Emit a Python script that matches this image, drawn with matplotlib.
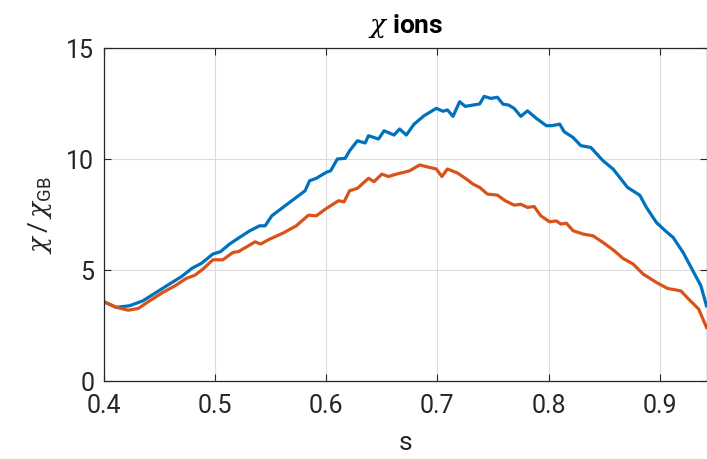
import matplotlib
matplotlib.use("Agg")
import matplotlib.pyplot as plt

# radial coordinate s
s_blue = [0.400, 0.411, 0.423, 0.435, 0.447, 0.459, 0.470, 0.479, 0.488, 0.498,
          0.505, 0.513, 0.522, 0.531, 0.540, 0.545, 0.551, 0.561, 0.573, 0.581,
          0.585, 0.591, 0.600, 0.604, 0.610, 0.617, 0.621, 0.628, 0.635, 0.638,
          0.647, 0.652, 0.661, 0.666, 0.672, 0.679, 0.688, 0.699, 0.705, 0.709,
          0.714, 0.720, 0.725, 0.732, 0.738, 0.742, 0.748, 0.754, 0.759, 0.764,
          0.769, 0.775, 0.781, 0.789, 0.798, 0.803, 0.810, 0.814, 0.822, 0.829,
          0.838, 0.849, 0.858, 0.864, 0.871, 0.882, 0.888, 0.897, 0.906, 0.912,
          0.921, 0.929, 0.937, 0.942]
chi_blue = [3.56, 3.31, 3.38, 3.60, 3.98, 4.36, 4.70, 5.06, 5.30, 5.71,
            5.82, 6.16, 6.46, 6.75, 6.98, 6.98, 7.43, 7.81, 8.26, 8.56,
            9.01, 9.12, 9.39, 9.46, 9.99, 10.02, 10.36, 10.81, 10.71, 11.04,
            10.89, 11.26, 11.07, 11.34, 11.07, 11.56, 11.94, 12.27, 12.14, 12.20,
            11.91, 12.57, 12.36, 12.42, 12.47, 12.81, 12.72, 12.77, 12.46, 12.42,
            12.27, 11.91, 12.16, 11.82, 11.49, 11.49, 11.56, 11.22, 10.96, 10.59,
            10.51, 9.91, 9.54, 9.16, 8.71, 8.36, 7.81, 7.13, 6.71, 6.46,
            5.78, 5.03, 4.28, 3.38]

s_orange = [0.400, 0.411, 0.422, 0.431, 0.441, 0.453, 0.464, 0.474, 0.482, 0.489,
            0.498, 0.507, 0.516, 0.521, 0.530, 0.536, 0.541, 0.549, 0.561, 0.573,
            0.584, 0.591, 0.600, 0.611, 0.616, 0.621, 0.628, 0.638, 0.643, 0.650,
            0.656, 0.663, 0.670, 0.675, 0.684, 0.693, 0.699, 0.704, 0.709, 0.718,
            0.726, 0.732, 0.738, 0.745, 0.754, 0.761, 0.769, 0.775, 0.781, 0.787,
            0.793, 0.801, 0.807, 0.811, 0.816, 0.822, 0.831, 0.840, 0.849, 0.859,
            0.867, 0.876, 0.885, 0.897, 0.907, 0.919, 0.926, 0.935, 0.942]
chi_orange = [3.56, 3.31, 3.18, 3.26, 3.60, 3.98, 4.28, 4.61, 4.76, 5.03,
              5.45, 5.45, 5.78, 5.82, 6.08, 6.26, 6.16, 6.38, 6.65, 6.98,
              7.46, 7.43, 7.76, 8.11, 8.06, 8.56, 8.67, 9.12, 8.97, 9.31,
              9.20, 9.31, 9.39, 9.46, 9.72, 9.61, 9.54, 9.20, 9.54, 9.36,
              9.09, 8.86, 8.71, 8.41, 8.36, 8.11, 7.91, 7.95, 7.81, 7.85,
              7.43, 7.16, 7.20, 7.06, 7.10, 6.76, 6.61, 6.53, 6.23, 5.86,
              5.51, 5.26, 4.81, 4.43, 4.16, 4.05, 3.68, 3.23, 2.41]

xticks = [0.4, 0.5, 0.6, 0.7, 0.8, 0.9]
yticks = [0, 5, 10, 15]

plt.rcParams['font.family'] = ['Roboto', 'DejaVu Sans']
plt.rcParams['mathtext.fontset'] = 'custom'
plt.rcParams['mathtext.rm'] = 'Roboto'
plt.rcParams['mathtext.it'] = 'DejaVu Serif:italic'
plt.rcParams['mathtext.sf'] = 'Roboto'

fig = plt.figure(figsize=(7.07, 4.6), dpi=100)
ax = fig.add_axes([0.147, 0.17, 0.853, 0.724])

ax.plot(s_blue, chi_blue, color='#0072BD', lw=2.3)
ax.plot(s_orange, chi_orange, color='#D95319', lw=2.3)

ax.set_xlim(0.4, 0.9425)
ax.set_ylim(0, 15)
ax.set_xticks(xticks)
ax.set_yticks(yticks)
ax.set_xticklabels([f"{t:.1f}" for t in xticks])
ax.grid(True, color='#dcdcdc', lw=0.8)
ax.set_axisbelow(True)
ax.tick_params(direction='in', length=5, labelsize=18, colors='#262626',
               width=0.8, top=True, right=True)
ax.tick_params(axis='x', pad=9)
ax.tick_params(axis='y', pad=7)
for sp in ax.spines.values():
    sp.set_color('#262626')
    sp.set_linewidth(0.9)

ax.set_xlabel('s', fontsize=19, color='#262626', labelpad=9)
ax.set_ylabel(r'$\chi\,/\,\chi_{\mathrm{GB}}$', fontsize=19, color='#262626', labelpad=9)
ax.set_title(r'$\chi$ ions', fontsize=19, fontweight='bold', pad=11)

fig.savefig('out.png', dpi=100)
